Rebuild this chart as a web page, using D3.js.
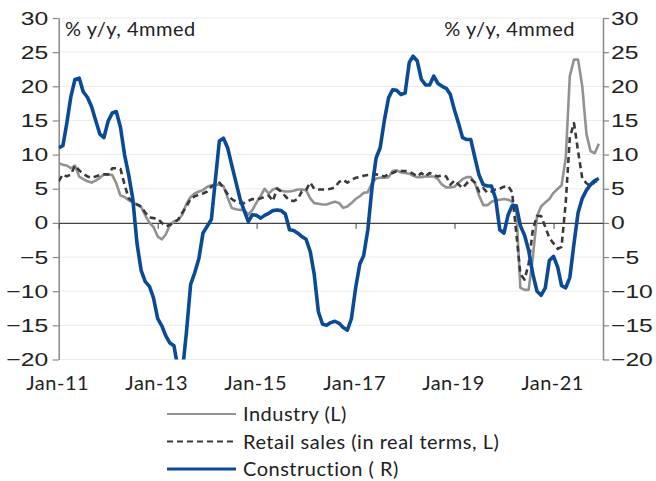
<!DOCTYPE html>
<html>
<head>
<meta charset="utf-8">
<script src="https://cdn.jsdelivr.net/npm/d3@7"></script>
<style>
  body { margin: 0; background: #fff; }
  svg { display: block; font-family: Lato, "Open Sans", sans-serif; }
  .lbl { font-size: 20px; fill: #222; letter-spacing: 0.5px; }
  .num { font-size: 19px; fill: #222; }
</style>
</head>
<body>
<svg id="chart"></svg>
<script>
// monthly, Jan-11 .. Dec-21
const startMonth = new Date(2011, 0, 1);

const industry = [
  8.8, 8.5, 8.4, 8.0, 8.4, 6.8, 6.4, 6.1, 5.9, 6.2, 6.6, 7.1,
  7.1, 7.0, 5.8, 4.0, 3.8, 3.3, 3.0, 2.7, 2.3, 1.1, 0.0, -0.6,
  -2.0, -2.4, -1.7, -0.3, 0.2, 0.4, 1.2, 2.8, 3.8, 4.3, 4.6, 4.8,
  5.3, 5.5, 5.6, 5.6, 5.4, 3.7, 2.2, 2.0, 1.9, 1.9, 1.2, 1.9,
  3.0, 4.0, 5.0, 4.3, 4.9, 5.1, 4.7, 4.6, 4.6, 4.7, 4.9, 4.9,
  4.8, 3.6, 2.9, 2.8, 2.7, 2.7, 2.9, 3.1, 2.9, 2.2, 2.4, 2.9,
  3.5, 3.9, 4.4, 4.5, 5.8, 6.5, 6.6, 6.6, 6.7, 7.6, 7.7, 7.4,
  7.3, 7.2, 6.9, 6.7, 6.7, 6.8, 6.8, 6.8, 6.4, 5.6, 5.2, 5.2,
  5.3, 5.9, 6.4, 6.7, 6.7, 5.8, 4.0, 2.6, 2.6, 3.1, 3.3, 3.4,
  3.5, 3.4, 3.1, 1.8, -9.5, -9.8, -9.8, -5.0, 1.0, 2.4, 3.0, 3.5,
  4.4, 5.0, 5.5, 9.5, 21.5, 23.9, 23.9, 20.0, 13.0, 10.5, 10.2, 11.6
];

const retail = [
  6.1, 7.1, 6.8, 7.1, 8.4, 7.7, 7.2, 6.8, 6.6, 6.8, 7.0, 7.1,
  7.1, 8.0, 8.0, 7.9, 5.6, 3.6, 3.1, 2.7, 2.4, 1.5, 0.8, 0.7,
  0.6, 0.0, -0.5, -0.3, 0.1, 0.5, 1.5, 2.4, 3.5, 3.9, 4.1, 4.3,
  4.6, 5.3, 5.6, 5.9, 5.2, 4.2, 3.5, 3.1, 2.9, 2.9, 3.2, 3.5,
  3.4, 3.6, 3.8, 4.0, 3.2, 5.0, 4.6, 3.9, 3.3, 3.2, 3.5, 4.6,
  4.8, 5.9, 5.0, 4.9, 4.9, 4.9, 5.0, 5.2, 6.0, 6.3, 5.9, 6.3,
  6.6, 6.7, 6.9, 7.0, 7.1, 7.1, 7.0, 6.8, 7.1, 7.3, 7.6, 7.6,
  7.6, 7.5, 7.2, 6.8, 7.3, 6.8, 7.3, 7.0, 6.8, 7.0, 6.8, 5.6,
  6.2, 5.6, 5.1, 5.8, 6.4, 5.9, 4.6, 5.1, 4.4, 4.6, 4.9, 5.0,
  5.3, 5.4, 4.5, -1.5, -7.5, -8.3, -6.0, -1.0, 1.0, 1.0, -0.6, -2.2,
  -3.0, -3.8, -3.5, 3.0, 12.5, 14.6, 10.5, 6.5, 5.8, 5.4, 6.0, 6.2
];

const construction = [
  11.0, 11.3, 14.5, 18.5, 21.0, 21.2, 19.2, 18.4, 17.0, 15.0, 13.0, 12.5,
  14.9, 16.1, 16.3, 14.0, 10.0, 7.0, 3.5, -3.0, -7.0, -8.6, -9.3, -11.0,
  -14.0, -15.1, -16.5, -17.6, -18.0, -21.5, -22.0, -16.0, -9.0, -7.3, -5.2, -1.5,
  -0.5, 0.5, 6.0, 12.0, 12.4, 11.0, 8.5, 6.0, 3.5, 1.8, 0.2, 1.2,
  1.1, 0.7, 1.1, 1.4, 1.8, 1.9, 1.8, 1.3, -1.0, -1.1, -1.5, -2.0,
  -2.4, -4.2, -7.5, -13.0, -14.8, -15.0, -14.6, -14.4, -14.7, -15.3, -15.7, -14.0,
  -9.5, -6.0, -4.8, -1.0, 5.0, 9.5, 11.0, 15.0, 18.3, 19.5, 19.4, 18.8,
  19.0, 23.5, 24.4, 23.7, 21.0, 20.2, 20.2, 21.5, 20.4, 20.0, 19.7, 18.8,
  16.5, 14.5, 12.5, 12.2, 12.2, 9.5, 7.0, 5.6, 5.4, 5.4, 3.5, -1.0,
  -1.5, 1.2, 2.5, 2.5, -0.4, -1.8, -4.0, -7.5, -10.0, -10.6, -9.5, -5.5,
  -4.9, -6.5, -9.2, -9.5, -8.0, -3.0, 1.5, 3.6, 4.8, 5.6, 6.2, 6.5
];

const yTicks = [30, 25, 20, 15, 10, 5, 0, -5, -10, -15, -20];
const xTickYears = [2011, 2013, 2015, 2017, 2019, 2021];
const axisTitle = "% y/y, 4mmed";
const seriesNames = ["Industry (L)", "Retail sales (in real terms, L)", "Construction ( R)"];

const width = 656, height = 481;
const plot = { left: 58.7, right: 603, top: 18, bottom: 359.5 };
const numStretch = 1.3; // the chart font has very wide digits

const svg = d3.select("#chart").attr("width", width).attr("height", height);

const x = d3.scaleTime()
  .domain([startMonth, new Date(2022, 0, 1)])
  .range([plot.left, plot.right]);
const yL = d3.scaleLinear().domain([-20, 30]).range([plot.bottom, plot.top]);
const yR = d3.scaleLinear().domain([-20, 30]).range([plot.bottom, plot.top]);

const monthDate = i => d3.timeMonth.offset(startMonth, i);

// gridlines
svg.append("g")
  .selectAll("line")
  .data(yTicks.filter(d => d !== 0))
  .join("line")
  .attr("x1", plot.left).attr("x2", plot.right)
  .attr("y1", d => yL(d)).attr("y2", d => yL(d))
  .attr("stroke", "#ececec").attr("stroke-width", 1);

function styleAxis(g, offset) {
  g.select(".domain").attr("stroke", "#888").attr("stroke-width", 1.5);
  g.selectAll(".tick line").attr("stroke", "#888").attr("stroke-width", 1.2);
  g.selectAll(".tick text")
    .attr("class", "num")
    .attr("font-size", null).attr("font-family", null).attr("fill", null)
    .attr("x", offset / numStretch)
    .attr("transform", `scale(${numStretch},1)`);
}

// left axis
svg.append("g")
  .attr("transform", `translate(${plot.left},0)`)
  .call(d3.axisLeft(yL).tickValues(yTicks).tickSize(6).tickSizeOuter(0))
  .call(g => styleAxis(g, -10.5));

// right axis
svg.append("g")
  .attr("transform", `translate(${plot.right},0)`)
  .call(d3.axisRight(yR).tickValues(yTicks).tickSize(6).tickSizeOuter(0))
  .call(g => styleAxis(g, 8));

// zero line with year ticks
const xAxis = svg.append("g")
  .attr("transform", `translate(0,${yL(0)})`)
  .call(d3.axisBottom(x)
    .tickValues(xTickYears.map(y => new Date(y, 0, 1)))
    .tickSize(6).tickSizeOuter(0)
    .tickFormat(""));
xAxis.select(".domain").attr("stroke", "#444").attr("stroke-width", 1.3);
xAxis.selectAll(".tick line").attr("stroke", "#444").attr("stroke-width", 1);

// x labels at the bottom
svg.append("g")
  .selectAll("text")
  .data(xTickYears)
  .join("text")
  .attr("class", "lbl")
  .attr("x", d => x(new Date(d, 0, 1)) - 1)
  .attr("y", 390)
  .attr("text-anchor", "middle")
  .text(d => d3.timeFormat("%b-%y")(new Date(d, 0, 1)));

// axis titles
svg.append("text").attr("class", "lbl")
  .attr("x", 65).attr("y", 36).text(axisTitle);
svg.append("text").attr("class", "lbl")
  .attr("x", 575).attr("y", 36).attr("text-anchor", "end").text(axisTitle);

// clip
svg.append("clipPath").attr("id", "plot-clip")
  .append("rect")
  .attr("x", plot.left).attr("y", plot.top)
  .attr("width", plot.right - plot.left).attr("height", plot.bottom - plot.top);

const styles = [
  { data: industry, y: yL, color: "#929292", width: 2.6, dash: null },
  { data: retail, y: yL, color: "#3a3a3a", width: 2.6, dash: "6,4" },
  { data: construction, y: yR, color: "#0b4b96", width: 3.6, dash: null }
];

const lines = svg.append("g").attr("clip-path", "url(#plot-clip)");
styles.forEach(s => {
  const line = d3.line()
    .x((d, i) => x(monthDate(i)))
    .y(d => s.y(d));
  lines.append("path")
    .datum(s.data)
    .attr("d", line)
    .attr("fill", "none")
    .attr("stroke", s.color)
    .attr("stroke-width", s.width)
    .attr("stroke-dasharray", s.dash)
    .attr("stroke-linejoin", "round");
});

// legend
const legend = svg.append("g")
  .selectAll("g")
  .data(styles.map((s, i) => ({ ...s, name: seriesNames[i] })))
  .join("g")
  .attr("transform", (d, i) => `translate(167, ${414 + i * 27.5})`);
legend.append("line")
  .attr("x1", 0).attr("x2", 69)
  .attr("stroke", d => d.color)
  .attr("stroke-width", d => d.width - 0.4)
  .attr("stroke-dasharray", d => d.dash);
legend.append("text")
  .attr("class", "lbl")
  .attr("x", 76).attr("y", 7)
  .text(d => d.name);
</script>
</body>
</html>
